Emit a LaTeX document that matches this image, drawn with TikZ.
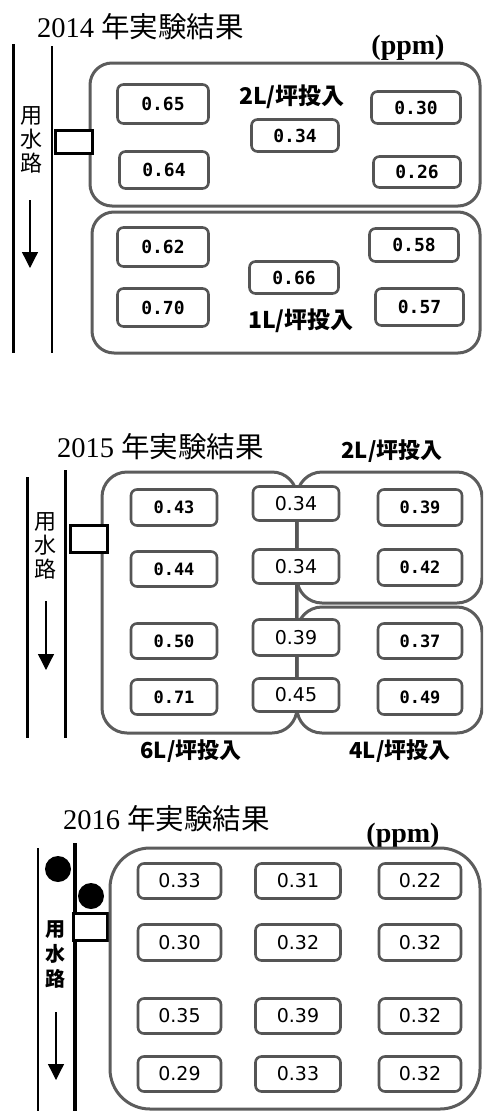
\documentclass[tikz,border=0pt]{standalone}
\usepackage{fontspec}
\setmainfont{Liberation Serif}
\newfontfamily\cjk{Noto Sans CJK JP}
\newfontfamily\monob{DejaVu Sans Mono}
\newfontfamily\dvs{DejaVu Sans}
\usetikzlibrary{arrows.meta}
\definecolor{boxgray}{HTML}{555555}
\definecolor{regiongray}{HTML}{5C5C5C}
\newcommand\vb[5]{\node[val,minimum width=#3pt,minimum height=#4pt] (#1) at (#2) {#5};}
\begin{document}
\begin{tikzpicture}[x=1pt,y=-1pt,
  val/.style={draw=boxgray,line width=2.6pt,rounded corners=6pt,fill=white,inner sep=0pt},
  region/.style={draw=regiongray,line width=3pt,rounded corners=22pt},
  bank/.style={draw=black,line width=3.5pt},
  bankthin/.style={draw=black,line width=2.8pt},
  gate/.style={draw=black,line width=3pt,fill=white},
  flow/.style={draw=black,line width=1.3pt,-{Triangle[width=16pt,length=16pt]}},
  conn/.style={draw=boxgray,line width=3pt},
  title/.style={anchor=west,inner sep=0pt,font=\fontsize{28.5}{28.5}\selectfont},
  ppm/.style={inner sep=0pt,font=\bfseries\fontsize{28}{28}\selectfont},
  dose/.style={inner sep=0pt,font=\cjk\bfseries\fontsize{22}{22}\selectfont},
  canal/.style={inner sep=0pt,align=center,font=\cjk\fontsize{22}{24}\selectfont},
  ball/.style={circle,fill=black,minimum size=26pt,inner sep=0pt}
]
\useasboundingbox (0,0) rectangle (483,1111);
\clip (0,0) rectangle (483,1111);

% ================= 2014 =================
\node[title] (t14) at (37,27) {2014 {\cjk 年実験結果}};
\node[ppm] (p14) at (408,48) {(ppm)};
\coordinate (L1a) at (13.5,44); \coordinate (L1b) at (13.5,353);
\coordinate (L2a) at (52,46); \coordinate (L2b) at (52,353);
\draw[bank] (L1a) -- (L1b);
\draw[bankthin] (L2a) -- (L2b);
\node[canal] (w14) at (31,140) {用\\水\\路};
\coordinate (A1a) at (30,200); \coordinate (A1b) at (30,268);
\draw[flow] (A1a) -- (A1b);
\draw[region] (90,63) rectangle (480,206);
\draw[region] (92,212) rectangle (480,353);
\node[gate,inner sep=0pt,minimum width=37pt,minimum height=23pt] (g14) at (73.5,141.5) {};

\begin{scope}[every node/.append style={font=\monob\bfseries\fontsize{18}{18}\selectfont}]
\vb{a1}{163,104}{91}{39}{0.65}
\vb{a2}{295,135.5}{87}{32}{0.34}
\vb{a3}{416,107.5}{89}{32}{0.30}
\vb{a4}{164,170}{89}{37}{0.64}
\vb{a5}{417,172}{87}{31}{0.26}
\vb{b1}{163,247}{91}{39}{0.62}
\vb{b2}{414,245}{89}{33}{0.58}
\vb{b3}{294,277.5}{89}{32}{0.66}
\vb{b4}{163,307.5}{91}{38}{0.70}
\vb{b5}{419.5,307}{88}{37}{0.57}
\end{scope}
\node[dose,font=\cjk\bfseries\fontsize{23}{23}\selectfont] (d14a) at (292,97) {2L/坪投入};
\node[dose,font=\cjk\bfseries\fontsize{23}{23}\selectfont] (d14b) at (301,321) {1L/坪投入};

% ================= 2015 =================
\node[title] (t15) at (57,447) {2015 {\cjk 年実験結果}};
\node[dose] (d15a) at (392,451) {2L/坪投入};
\coordinate (L3a) at (27.5,477); \coordinate (L3b) at (27.5,738);
\coordinate (L4a) at (65.5,470); \coordinate (L4b) at (65.5,738);
\draw[bank] (L3a) -- (L3b);
\draw[bankthin] (L4a) -- (L4b);
\node[canal] (w15) at (45,546) {用\\水\\路};
\coordinate (A2a) at (46,601); \coordinate (A2b) at (46,670);
\draw[flow] (A2a) -- (A2b);
\draw[region,rounded corners=25pt] (102,472) rectangle (297,733);
\draw[region,rounded corners=25pt] (297,472) rectangle (482,603);
\draw[region,rounded corners=25pt] (297,607) rectangle (482,733);
\node[gate,inner sep=0pt,minimum width=37pt,minimum height=27pt] (g15) at (88.5,538.5) {};

\begin{scope}[every node/.append style={font=\monob\bfseries\fontsize{17}{17}\selectfont}]
\vb{c1}{174,507.5}{86}{36}{0.43}
\vb{c3}{420,507.5}{84}{36}{0.39}
\vb{c4}{174,569}{86}{35}{0.44}
\vb{c6}{420,567.5}{84}{36}{0.42}
\vb{c7}{174,641}{86}{35}{0.50}
\vb{c9}{420,641}{84}{35}{0.37}
\vb{c10}{174,697}{86}{35}{0.71}
\vb{c12}{420,697}{84}{35}{0.49}
\end{scope}
\begin{scope}[every node/.append style={font=\dvs\fontsize{19}{19}\selectfont}]
\vb{m1}{296,503.5}{86}{34}{0.34}
\vb{m2}{296,566.5}{86}{34}{0.34}
\vb{m3}{296,637.5}{86}{36}{0.39}
\vb{m4}{296,695}{86}{33}{0.45}
\end{scope}
\draw[conn] (m1.south) -- (m2.north);
\draw[conn] (m2.south) -- (m3.north);
\draw[conn] (m3.south) -- (m4.north);
\node[dose] (d15b) at (191,751) {6L/坪投入};
\node[dose] (d15c) at (400,751) {4L/坪投入};

% ================= 2016 =================
\node[title] (t16) at (63,819) {2016 {\cjk 年実験結果}};
\node[ppm] (p16) at (403,836) {(ppm)};
\coordinate (L5a) at (37.5,848); \coordinate (L5b) at (37.5,1115);
\coordinate (L6a) at (75,843); \coordinate (L6b) at (75,1115);
\draw[draw=black,line width=2pt] (L5a) -- (L5b);
\draw[draw=black,line width=3.5pt] (L6a) -- (L6b);
\node[ball] (k1) at (58,869) {};
\node[ball] (k2) at (91,896) {};
\node[gate,inner sep=0pt,minimum width=34pt,minimum height=27pt] (g16) at (90,926.5) {};
\node[canal,font=\cjk\bfseries\fontsize{20}{25}\selectfont] (w16) at (55,955) {用\\水\\路};
\coordinate (A3a) at (56,1012); \coordinate (A3b) at (56,1080);
\draw[flow] (A3a) -- (A3b);
\draw[region,rounded corners=40pt] (110,848) rectangle (480,1109);

\begin{scope}[every node/.append style={font=\dvs\fontsize{19}{19}\selectfont}]
\vb{e1}{179.5,881}{83}{35}{0.33}
\vb{e2}{298,881}{85}{35}{0.31}
\vb{e3}{420,881}{82}{35}{0.22}
\vb{e4}{179.5,942.5}{83}{36}{0.30}
\vb{e5}{298,942.5}{85}{36}{0.32}
\vb{e6}{420,942.5}{82}{36}{0.32}
\vb{e7}{179.5,1016}{83}{35}{0.35}
\vb{e8}{298,1016}{85}{35}{0.39}
\vb{e9}{420,1016}{82}{35}{0.32}
\vb{e10}{179.5,1074}{83}{35}{0.29}
\vb{e11}{298,1074}{85}{35}{0.33}
\vb{e12}{420,1074}{82}{35}{0.32}
\end{scope}
\end{tikzpicture}
\end{document}
